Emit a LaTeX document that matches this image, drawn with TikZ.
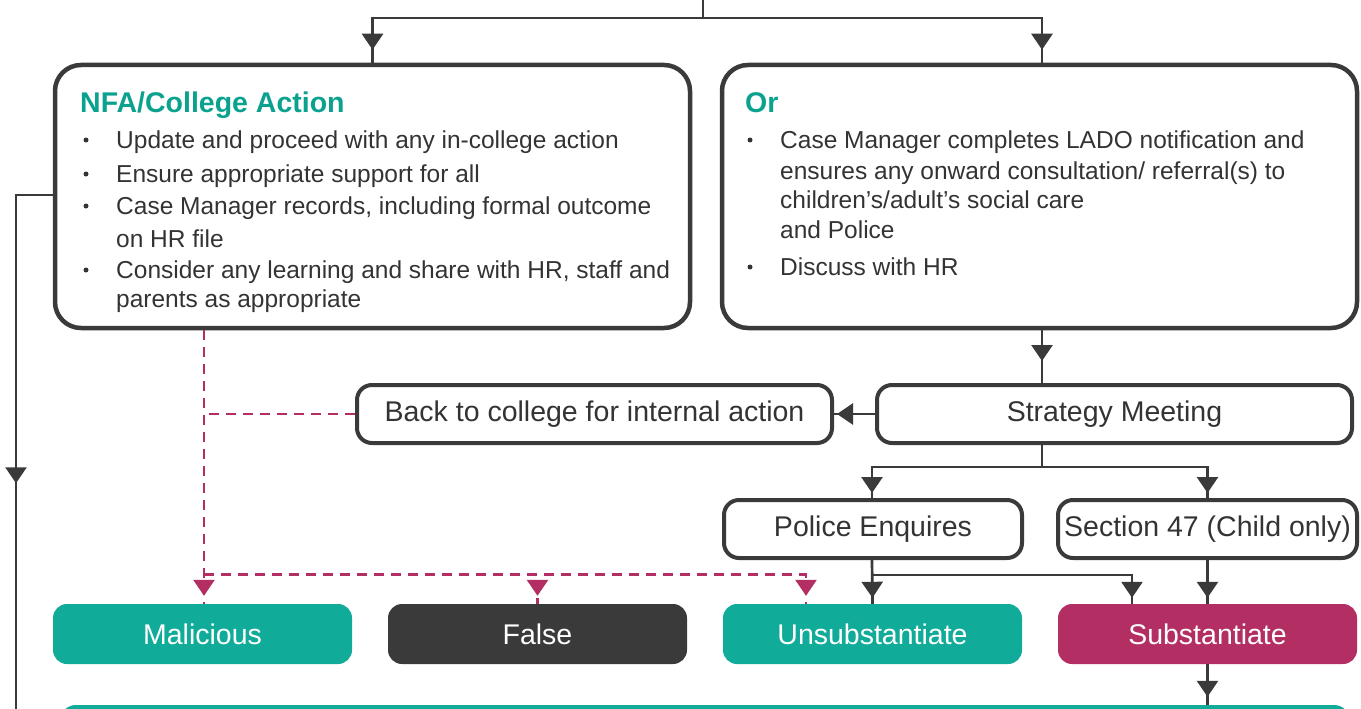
\documentclass[tikz,border=0pt]{standalone}
\usepackage{fontspec}
\setmainfont{Liberation Sans}
\usetikzlibrary{arrows.meta,decorations.markings,calc}

\definecolor{brandteal}{HTML}{10AB99}
\definecolor{titleteal}{HTML}{0AA28F}
\definecolor{brandmag}{HTML}{B32E62}
\definecolor{ink}{HTML}{3A3A3A}
\definecolor{txt}{HTML}{333333}

\tikzset{
  bigbox/.style={draw=ink, line width=4.5pt, rounded corners=26pt,
    minimum width=635pt, minimum height=263pt, inner sep=0pt},
  outbox/.style={draw=ink, line width=4pt, rounded corners=15pt,
    minimum height=58pt, inner sep=0pt, text=txt,
    font=\fontsize{28.5}{34}\selectfont},
  fillbox/.style={rounded corners=14pt, minimum width=299pt,
    minimum height=60pt, inner sep=0pt, text=white,
    font=\fontsize{28.5}{34}\selectfont},
  boxtitle/.style={anchor=base west, inner sep=0pt, text=titleteal,
    font=\bfseries\fontsize{28.5}{34}\selectfont},
  body/.style={anchor=base west, inner sep=0pt, text=txt,
    font=\fontsize{24.5}{30}\selectfont},
  bul/.style={circle, fill=txt, inner sep=0pt, minimum size=5pt},
  conn/.style={color=ink, line width=2.7pt},
  mgline/.style={color=brandmag, line width=2.7pt, dash pattern=on 10pt off 7pt},
  tipat/.style={postaction={decorate}, decoration={markings,
    mark=at position #1 with {\arrow{Triangle[width=21pt,length=16pt]}}}},
}

\begin{document}
\begin{tikzpicture}[x=1pt,y=-1pt]
\useasboundingbox (0,0) rectangle (1361,709);
\clip (0,0) rectangle (1361,709);

% decision boxes
\node[bigbox] (nfa) at (372.5,196.5) {};
\node[bigbox] (orbox) at (1039.5,196.5) {};

\node[boxtitle] (nfatitle) at (80,112) {NFA/College Action};
\node[boxtitle] (ortitle) at (745,112) {Or};

\foreach \y/\t/\b [count=\i] in {
  148/{Update and proceed with any in-college action}/1,
  182/{Ensure appropriate support for all}/1,
  214/{Case Manager records, including formal outcome}/1,
  247/{on HR file}/0,
  278/{Consider any learning and share with HR, staff and}/1,
  307/{parents as appropriate}/0}{
  \node[body] (nfa-l\i) at (116,\y) {\t};
  \ifnum\b=1 \node[bul] (nfa-b\i) at (86,\y-8) {};\fi
}

\foreach \y/\t/\b [count=\i] in {
  148/{Case Manager completes LADO notification and}/1,
  179/{ensures any onward consultation/ referral(s) to}/0,
  208/{children’s/adult’s social care}/0,
  238/{and Police}/0,
  275/{Discuss with HR}/1}{
  \node[body] (or-l\i) at (780,\y) {\t};
  \ifnum\b=1 \node[bul] (or-b\i) at (750,\y-8) {};\fi
}

% process boxes
\node[outbox, minimum width=475pt] (back) at (594.5,414) {Back to college for internal action};
\node[outbox, minimum width=475pt] (strat) at (1114.5,414) {Strategy Meeting};
\node[outbox, minimum width=298pt] (police) at (873,529) {Police Enquires};
\node[outbox, minimum width=299pt] (s47) at (1207.5,529) {Section 47 (Child only)};

% outcome boxes
\node[fillbox, fill=brandteal] (mal) at (202.5,634) {Malicious};
\node[fillbox, fill=ink] (false) at (537.5,634) {False};
\node[fillbox, fill=brandteal] (unsub) at (872.5,634) {Unsubstantiate};
\node[fillbox, fill=brandmag] (subst) at (1207.5,634) {Substantiate};

\node[fill=brandteal, rounded corners=16pt, minimum width=1290pt,
  minimum height=60pt, inner sep=0pt] (strip) at (705,735) {};

% incoming split at the top
\coordinate (src) at (703,-5);
\coordinate (split) at (703,18);
\draw[conn] (src) -- (split);
\draw[conn, tipat=-13pt] (split) -| (nfa.north);
\draw[conn, tipat=-13pt] (split) -| ([xshift=2.5pt]orbox.north);

% left return line
\coordinate (leftdrop) at (16,730);
\draw[conn, tipat=325pt] ([yshift=1.5pt]nfa.west) -| (leftdrop);

% LADO route
\draw[conn, tipat=-22pt] ([xshift=2.5pt]orbox.south) -- ([xshift=2.5pt]orbox.south |- strat.north);
\draw[conn, tipat=-3pt] (strat.west) -- (back.east);
\coordinate (sjoin) at ($(orbox.south |- strat.south)+(2.5,22)$);
\draw[conn] ([xshift=2.5pt]orbox.south |- strat.south) -- (sjoin);
\draw[conn, tipat=-5pt] (sjoin) -| ([xshift=-1pt]police.north);
\draw[conn, tipat=-5pt] (sjoin) -| (s47.north);

\draw[conn, tipat=-6pt] ([xshift=-1pt]police.south) -- (unsub.north);
\coordinate (pjoin) at ($(police.south)+(-1,15)$);
\draw[conn, tipat=-6pt] (pjoin) -| ([xshift=-75.5pt]subst.north);
\draw[conn, tipat=-6pt] (s47.south) -- (subst.north);
\draw[conn, tipat=-8pt] (subst.south) -- (subst.south |- strip.north);

% internal action route (dashed)
\coordinate (djoin) at ($(mal.north)+(1.5,-29)$);
\draw[mgline, tipat=-8pt] ([xshift=1.5pt]nfa.south -| mal.north) -- ([xshift=1.5pt]mal.north);
\draw[mgline] (back.west) -- (back.west -| djoin);
\draw[mgline, tipat=-8pt] (djoin) -| (false.north);
\draw[mgline, tipat=-8pt] (djoin) -| ([xshift=-66.5pt]unsub.north);
\end{tikzpicture}
\end{document}
